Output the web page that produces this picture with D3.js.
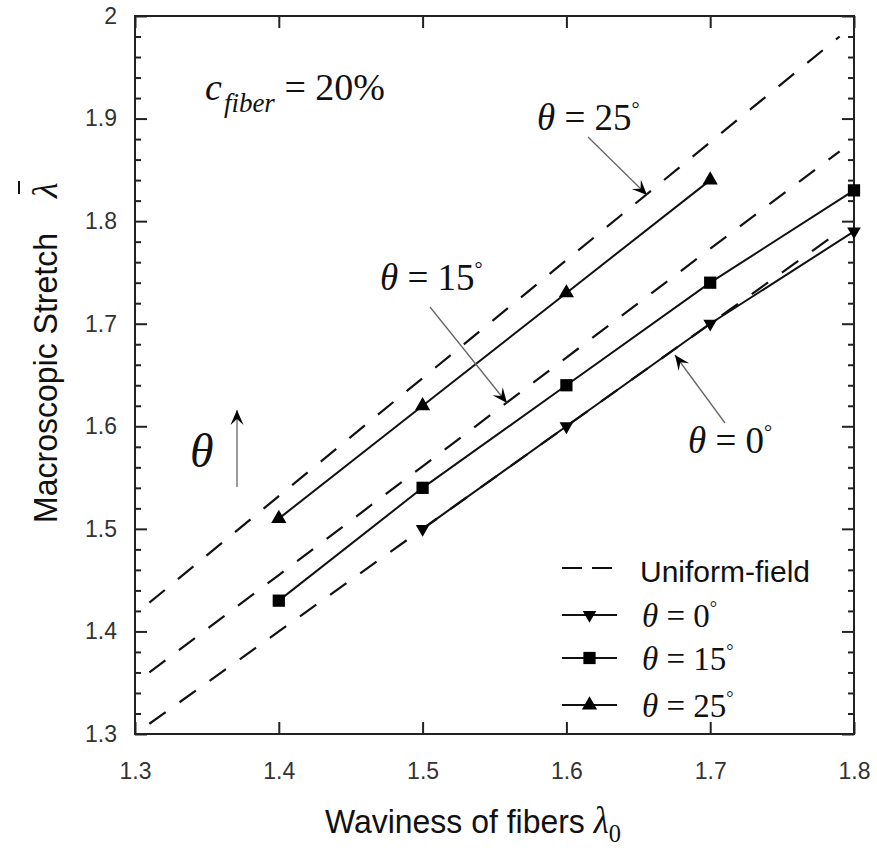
<!DOCTYPE html>
<html>
<head>
<meta charset="utf-8">
<script src="https://cdn.jsdelivr.net/npm/d3@7"></script>
<style>
  body { margin: 0; background: #fff; }
  svg { display: block; }
</style>
</head>
<body>
<svg id="chart" width="877" height="850"></svg>
<script>
// x positions of the uniform-field (dashed) curves
const uniformX = [1.31, 1.4, 1.5, 1.6, 1.7, 1.79];
const uniform0 = [1.31, 1.40, 1.50, 1.60, 1.70, 1.79];
const uniform15 = [1.36, 1.455, 1.561, 1.667, 1.773, 1.868];
const uniform25 = [1.428, 1.532, 1.647, 1.762, 1.877, 1.98];

// simulated results (solid lines with markers)
const theta0X = [1.5, 1.6, 1.7, 1.8];
const theta0 = [1.50, 1.60, 1.70, 1.79];
const theta15X = [1.4, 1.5, 1.6, 1.7, 1.8];
const theta15 = [1.43, 1.54, 1.64, 1.74, 1.83];
const theta25X = [1.4, 1.5, 1.6, 1.7];
const theta25 = [1.51, 1.62, 1.73, 1.84];

const xTicks = [1.3, 1.4, 1.5, 1.6, 1.7, 1.8];
const yTicks = [1.3, 1.4, 1.5, 1.6, 1.7, 1.8, 1.9, 2.0];

const svg = d3.select("#chart");
const plotLeft = 135, plotRight = 854, plotTop = 16, plotBottom = 734;

const x = d3.scaleLinear().domain([1.3, 1.8]).range([plotLeft, plotRight]);
const y = d3.scaleLinear().domain([1.3, 2.0]).range([plotBottom, plotTop]);

const fmt = d => d === 2 ? "2" : d3.format(".1f")(d);
const yMinor = d3.range(1.30, 2.001, 0.02).filter(v => Math.abs(v * 10 - Math.round(v * 10)) > 1e-6);

// axes (ticks point inward)
svg.append("g").attr("transform", "translate(0," + plotBottom + ")")
    .call(d3.axisBottom(x).tickValues(xTicks).tickFormat(fmt).tickSize(-12).tickPadding(29));
svg.append("g").attr("transform", "translate(0," + plotTop + ")")
    .call(d3.axisTop(x).tickValues(xTicks).tickFormat("").tickSize(-12));
svg.append("g").attr("transform", "translate(" + plotLeft + ",0)")
    .call(d3.axisLeft(y).tickValues(yTicks).tickFormat(fmt).tickSize(-12).tickPadding(18));
svg.append("g").attr("transform", "translate(" + plotLeft + ",0)")
    .call(d3.axisLeft(y).tickValues(yMinor).tickFormat("").tickSize(-6));
svg.append("g").attr("transform", "translate(" + plotRight + ",0)")
    .call(d3.axisRight(y).tickValues(yTicks).tickFormat("").tickSize(-12));
svg.append("g").attr("transform", "translate(" + plotRight + ",0)")
    .call(d3.axisRight(y).tickValues(yMinor).tickFormat("").tickSize(-6));

svg.selectAll(".domain").remove();
svg.selectAll(".tick line").attr("stroke", "#222").attr("stroke-width", 2);
svg.selectAll(".tick text")
    .style("font-family", "'Liberation Sans', Arial, sans-serif")
    .style("font-size", "23px")
    .style("fill", "#333");

// frame
svg.append("rect")
    .attr("x", plotLeft).attr("y", plotTop)
    .attr("width", plotRight - plotLeft).attr("height", plotBottom - plotTop)
    .attr("fill", "none").attr("stroke", "#222").attr("stroke-width", 2);

const line = d3.line().x(d => x(d[0])).y(d => y(d[1]));

// dashed uniform-field curves
[uniform0, uniform15, uniform25].forEach(function(vals) {
    svg.append("path")
        .datum(uniformX.map((v, i) => [v, vals[i]]))
        .attr("d", line)
        .attr("fill", "none")
        .attr("stroke", "#111")
        .attr("stroke-width", 2.2)
        .attr("stroke-dasharray", "20,17");
});

// solid series
const series = [
    { xs: theta0X, ys: theta0, sym: d3.symbolTriangle, rot: 180, size: 80 },
    { xs: theta15X, ys: theta15, sym: d3.symbolSquare, rot: 0, size: 150 },
    { xs: theta25X, ys: theta25, sym: d3.symbolTriangle, rot: 0, size: 100 }
];

series.forEach(function(s) {
    const pts = s.xs.map((v, i) => [v, s.ys[i]]);
    svg.append("path")
        .datum(pts)
        .attr("d", line)
        .attr("fill", "none")
        .attr("stroke", "#111")
        .attr("stroke-width", 2);
    svg.selectAll(null)
        .data(pts)
        .enter().append("path")
        .attr("d", d3.symbol().type(s.sym).size(s.size))
        .attr("transform", d => "translate(" + x(d[0]) + "," + y(d[1]) + ") rotate(" + s.rot + ")")
        .attr("fill", "#000");
});

// arrow head marker
svg.append("defs").append("marker")
    .attr("id", "head")
    .attr("markerUnits", "userSpaceOnUse")
    .attr("viewBox", "-16 -8 18 16")
    .attr("markerWidth", 18).attr("markerHeight", 16)
    .attr("refX", 0).attr("refY", 0)
    .attr("orient", "auto")
    .append("path")
    .attr("d", "M0,0 L-15,-6.5 L-9,0 L-15,6.5 Z")
    .attr("fill", "#000");

const arrows = [
    [588, 137, 647, 195],
    [430, 307, 507, 403],
    [725, 423, 675, 355],
    [237, 487, 237, 410]
];
arrows.forEach(function(a) {
    svg.append("line")
        .attr("x1", a[0]).attr("y1", a[1])
        .attr("x2", a[2]).attr("y2", a[3])
        .attr("stroke", "#666")
        .attr("stroke-width", 1.3)
        .attr("marker-end", "url(#head)");
});

const serif = "'Liberation Serif', 'Times New Roman', serif";
const sans = "'Liberation Sans', Arial, sans-serif";

// theta = N deg label
function thetaLabel(px, py, deg, size) {
    const t = svg.append("text")
        .attr("x", px).attr("y", py)
        .attr("font-family", serif)
        .attr("font-size", size)
        .attr("fill", "#111");
    t.append("tspan").attr("font-style", "italic").text("\u03B8");
    t.append("tspan").text(" = " + deg);
    t.append("tspan").attr("font-size", size * 0.55).attr("dy", -size * 0.38).text("\u00B0");
    return t;
}

thetaLabel(537, 130, 25, 37);
thetaLabel(380, 290, 15, 37);
thetaLabel(688, 453, 0, 37);

// c_fiber = 20%
const cf = svg.append("text")
    .attr("x", 205).attr("y", 100)
    .attr("font-family", serif)
    .attr("font-size", 38)
    .attr("fill", "#111");
cf.append("tspan").attr("font-style", "italic").text("c");
cf.append("tspan").attr("font-style", "italic").attr("font-size", 27).attr("dy", 12).attr("dx", 2).text("fiber");
cf.append("tspan").attr("dy", -12).text(" = 20%");

// big theta next to the vertical arrow
svg.append("text")
    .attr("x", 190).attr("y", 467)
    .attr("font-family", serif)
    .attr("font-style", "italic")
    .attr("font-size", 48)
    .attr("fill", "#111")
    .text("\u03B8");

// legend
const legX = 562, legW = 55;
const legRows = [
    { y: 568, dash: true },
    { y: 615, sym: d3.symbolTriangle, rot: 180, size: 80, deg: 0 },
    { y: 658, sym: d3.symbolSquare, rot: 0, size: 150, deg: 15 },
    { y: 705, sym: d3.symbolTriangle, rot: 0, size: 100, deg: 25 }
];
legRows.forEach(function(r) {
    const l = svg.append("line")
        .attr("x1", legX).attr("x2", legX + legW)
        .attr("y1", r.y).attr("y2", r.y)
        .attr("stroke", "#111")
        .attr("stroke-width", 2);
    if (r.dash) {
        l.attr("stroke-dasharray", "20,10").attr("stroke-width", 2.2);
        svg.append("text")
            .attr("x", 640).attr("y", r.y + 14)
            .attr("font-family", sans)
            .attr("font-size", 30)
            .attr("fill", "#111")
            .text("Uniform-field");
    } else {
        svg.append("path")
            .attr("d", d3.symbol().type(r.sym).size(r.size))
            .attr("transform", "translate(" + (legX + legW / 2) + "," + r.y + ") rotate(" + r.rot + ")")
            .attr("fill", "#000");
        thetaLabel(642, r.y + 12, r.deg, 33);
    }
});

// x axis title
const xt = svg.append("text")
    .attr("transform", "translate(325,833) scale(0.94,1)")
    .attr("font-family", sans)
    .attr("font-size", 34)
    .attr("fill", "#111");
xt.append("tspan").text("Waviness of fibers ");
xt.append("tspan").attr("font-family", serif).attr("font-style", "italic").attr("font-size", 37).text("\u03BB");
xt.append("tspan").attr("font-family", serif).attr("font-size", 26).attr("dy", 9).text("0");

// y axis title
const yt = svg.append("g").attr("transform", "translate(57,378) rotate(-90)");
yt.append("text")
    .attr("x", 0).attr("y", 0)
    .attr("text-anchor", "middle")
    .attr("font-family", sans)
    .attr("font-size", 33)
    .attr("textLength", 290)
    .attr("lengthAdjust", "spacingAndGlyphs")
    .attr("fill", "#111")
    .text("Macroscopic Stretch");
yt.append("text")
    .attr("x", 180).attr("y", 0)
    .attr("font-family", serif)
    .attr("font-style", "italic")
    .attr("font-size", 36)
    .attr("fill", "#111")
    .text("\u03BB");
yt.append("line")
    .attr("x1", 184).attr("x2", 197)
    .attr("y1", -38).attr("y2", -38)
    .attr("stroke", "#111").attr("stroke-width", 2);
</script>
</body>
</html>
